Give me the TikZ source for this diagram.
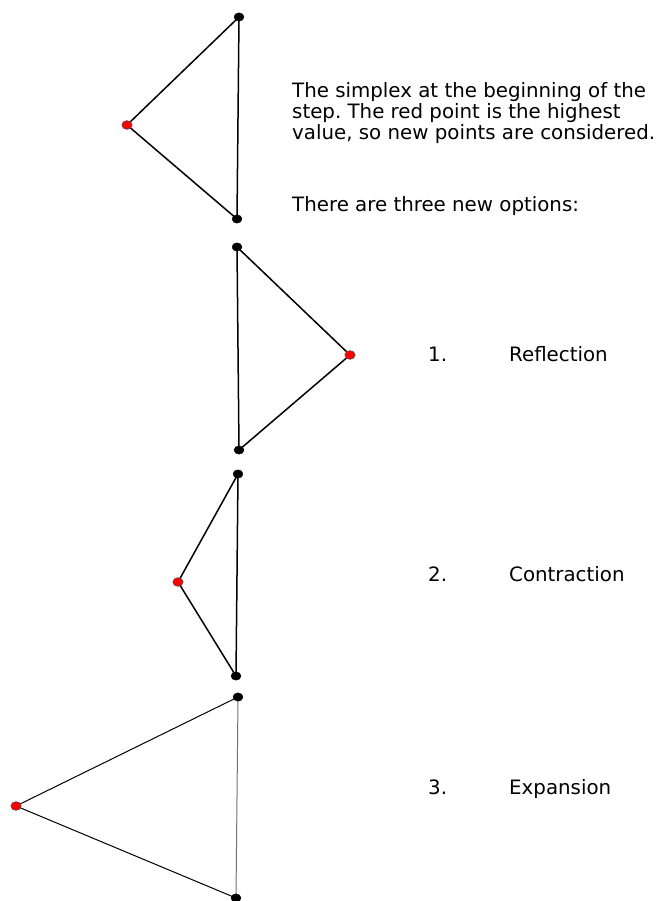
\documentclass[tikz,border=0pt]{standalone}
\usepackage{fontspec}
\setmainfont{DejaVu Sans}
\frenchspacing
\begin{document}
\begin{tikzpicture}[x=1pt,y=-1pt,
  blk/.style={fill=black,draw=black,line width=0.4pt},
  hot/.style={fill=red,draw=black!70,line width=0.5pt},
  edge/.style={line width=1.5pt},
  thin edge/.style={line width=1pt},
  txt/.style={anchor=base west,inner sep=0pt,font=\fontsize{19.8}{21}\selectfont}]
\useasboundingbox (0,0) rectangle (659,901);
% triangle 1
\coordinate (a1) at (239,17);
\coordinate (r1) at (127,125);
\coordinate (b1) at (237,219);
\draw[edge] (a1) -- (r1) -- (b1) -- cycle;
\filldraw[blk] (a1) ellipse (5 and 4.2);
\filldraw[blk] (b1) ellipse (5 and 4.2);
\filldraw[hot] (r1) ellipse (5.2 and 4.4);
% triangle 2
\coordinate (a2) at (237,247);
\coordinate (r2) at (350,355);
\coordinate (b2) at (239,450);
\draw[edge] (a2) -- (r2) -- (b2) -- cycle;
\filldraw[blk] (a2) ellipse (5 and 4.2);
\filldraw[blk] (b2) ellipse (5 and 4.2);
\filldraw[hot] (r2) ellipse (5.2 and 4.4);
% triangle 3
\coordinate (a3) at (238,474);
\coordinate (r3) at (178,582);
\coordinate (b3) at (236,676);
\draw[edge] (a3) -- (r3) -- (b3) -- cycle;
\filldraw[blk] (a3) ellipse (5 and 4.2);
\filldraw[blk] (b3) ellipse (5 and 4.2);
\filldraw[hot] (r3) ellipse (5.2 and 4.4);
% triangle 4
\coordinate (a4) at (238,697);
\coordinate (r4) at (16,806);
\coordinate (b4) at (236,898);
\draw[thin edge] (a4) -- (r4) -- (b4);
\draw[thin edge,draw=black!55] (b4) -- (a4);
\filldraw[blk] (a4) ellipse (5 and 4.2);
\filldraw[blk] (b4) ellipse (5 and 4.2);
\filldraw[hot] (r4) ellipse (5.2 and 4.4);
% texts
\node[txt] (t1) at (292,98) {The simplex at the beginning of the};
\node[txt] (t2) at (292,119) {step. The red point is the highest};
\node[txt] (t3) at (292,140) {value, so new points are considered.};
\node[txt] (t4) at (292,212) {There are three new options:};
\node[txt] (n1) at (428,361) {1.};
\node[txt] (l1) at (509,361) {Reflection};
\node[txt] (n2) at (428,581) {2.};
\node[txt] (l2) at (509,581) {Contraction};
\node[txt] (n3) at (428,794) {3.};
\node[txt] (l3) at (509,794) {Expansion};
\end{tikzpicture}
\end{document}
